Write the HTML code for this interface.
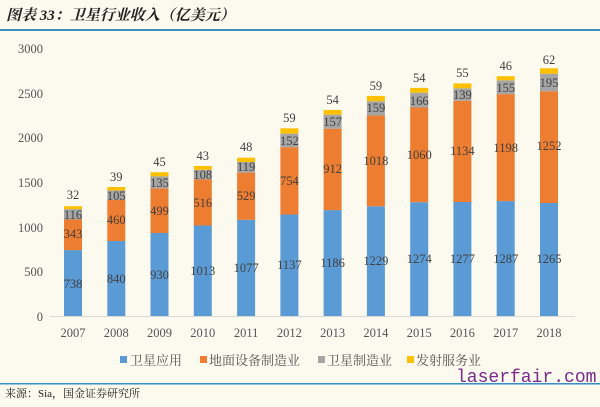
<!DOCTYPE html>
<html><head><meta charset="utf-8"><style>
body{margin:0;background:#fcf9ef;}
svg{display:block;font-family:"Liberation Serif","Noto Serif CJK SC",serif;}
</style></head><body>
<svg width="600" height="407" viewBox="0 0 600 407" xmlns="http://www.w3.org/2000/svg">
<rect width="600" height="407" fill="#fcf9ef"/>
<text x="6" y="20" font-size="15" font-weight="bold" font-style="italic" fill="#222" font-family="Liberation Serif,Noto Serif CJK SC,serif">图表 33：卫星行业收入（亿美元）</text>
<rect x="0" y="29" width="600" height="2" fill="#3a8fc4"/>
<g font-size="12.5" fill="#555" text-anchor="end">
<text x="43" y="53">3000</text><text x="43" y="98">2500</text><text x="43" y="142">2000</text><text x="43" y="187">1500</text><text x="43" y="232">1000</text><text x="43" y="276">500</text><text x="43" y="321">0</text>
</g>
<line x1="50" y1="316.5" x2="575" y2="316.5" stroke="#d9d9d9" stroke-width="1"/>
<g id="bars">
<rect x="64" y="250.1" width="18" height="65.9" fill="#5b9bd5"/><rect x="64" y="219.5" width="18" height="30.6" fill="#ed7d31"/><rect x="64" y="209.1" width="18" height="10.4" fill="#a5a5a5"/><rect x="64" y="206.2" width="18" height="2.9" fill="#ffc000"/>
<rect x="107.3" y="241" width="18" height="75" fill="#5b9bd5"/><rect x="107.3" y="199.9" width="18" height="41.1" fill="#ed7d31"/><rect x="107.3" y="190.5" width="18" height="9.4" fill="#a5a5a5"/><rect x="107.3" y="187" width="18" height="3.5" fill="#ffc000"/>
<rect x="150.5" y="233" width="18" height="83" fill="#5b9bd5"/><rect x="150.5" y="188.4" width="18" height="44.6" fill="#ed7d31"/><rect x="150.5" y="176.3" width="18" height="12.1" fill="#a5a5a5"/><rect x="150.5" y="172.3" width="18" height="4" fill="#ffc000"/>
<rect x="193.8" y="225.5" width="18" height="90.5" fill="#5b9bd5"/><rect x="193.8" y="179.4" width="18" height="46.1" fill="#ed7d31"/><rect x="193.8" y="169.8" width="18" height="9.6" fill="#a5a5a5"/><rect x="193.8" y="166" width="18" height="3.8" fill="#ffc000"/>
<rect x="237.1" y="219.8" width="18" height="96.2" fill="#5b9bd5"/><rect x="237.1" y="172.6" width="18" height="47.2" fill="#ed7d31"/><rect x="237.1" y="162" width="18" height="10.6" fill="#a5a5a5"/><rect x="237.1" y="157.7" width="18" height="4.3" fill="#ffc000"/>
<rect x="280.4" y="214.5" width="18" height="101.5" fill="#5b9bd5"/><rect x="280.4" y="147.2" width="18" height="67.3" fill="#ed7d31"/><rect x="280.4" y="133.6" width="18" height="13.6" fill="#a5a5a5"/><rect x="280.4" y="128.3" width="18" height="5.3" fill="#ffc000"/>
<rect x="323.6" y="210.1" width="18" height="105.9" fill="#5b9bd5"/><rect x="323.6" y="128.7" width="18" height="81.4" fill="#ed7d31"/><rect x="323.6" y="114.7" width="18" height="14" fill="#a5a5a5"/><rect x="323.6" y="109.9" width="18" height="4.8" fill="#ffc000"/>
<rect x="366.9" y="206.3" width="18" height="109.7" fill="#5b9bd5"/><rect x="366.9" y="115.4" width="18" height="90.9" fill="#ed7d31"/><rect x="366.9" y="101.2" width="18" height="14.2" fill="#a5a5a5"/><rect x="366.9" y="95.9" width="18" height="5.3" fill="#ffc000"/>
<rect x="410.2" y="202.2" width="18" height="113.8" fill="#5b9bd5"/><rect x="410.2" y="107.5" width="18" height="94.7" fill="#ed7d31"/><rect x="410.2" y="92.7" width="18" height="14.8" fill="#a5a5a5"/><rect x="410.2" y="87.9" width="18" height="4.8" fill="#ffc000"/>
<rect x="453.4" y="202" width="18" height="114" fill="#5b9bd5"/><rect x="453.4" y="100.7" width="18" height="101.3" fill="#ed7d31"/><rect x="453.4" y="88.3" width="18" height="12.4" fill="#a5a5a5"/><rect x="453.4" y="83.4" width="18" height="4.9" fill="#ffc000"/>
<rect x="496.7" y="201.1" width="18" height="114.9" fill="#5b9bd5"/><rect x="496.7" y="94.1" width="18" height="107" fill="#ed7d31"/><rect x="496.7" y="80.3" width="18" height="13.8" fill="#a5a5a5"/><rect x="496.7" y="76.2" width="18" height="4.1" fill="#ffc000"/>
<rect x="540" y="203" width="18" height="113" fill="#5b9bd5"/><rect x="540" y="91.2" width="18" height="111.8" fill="#ed7d31"/><rect x="540" y="73.8" width="18" height="17.4" fill="#a5a5a5"/><rect x="540" y="68.3" width="18" height="5.5" fill="#ffc000"/>
</g>
<g font-size="12.5" fill="#404040" text-anchor="middle" dominant-baseline="central">
<text x="73" y="284">738</text><text x="73" y="234">343</text><text x="73" y="215">116</text><text x="73" y="195">32</text>
<text x="116.3" y="279">840</text><text x="116.3" y="220">460</text><text x="116.3" y="196">105</text><text x="116.3" y="177">39</text>
<text x="159.5" y="275">930</text><text x="159.5" y="211">499</text><text x="159.5" y="183">135</text><text x="159.5" y="162">45</text>
<text x="202.8" y="271">1013</text><text x="202.8" y="203">516</text><text x="202.8" y="175">108</text><text x="202.8" y="156">43</text>
<text x="246.1" y="268">1077</text><text x="246.1" y="196">529</text><text x="246.1" y="167">119</text><text x="246.1" y="147">48</text>
<text x="289.4" y="265">1137</text><text x="289.4" y="181">754</text><text x="289.4" y="141">152</text><text x="289.4" y="118">59</text>
<text x="332.6" y="263">1186</text><text x="332.6" y="169">912</text><text x="332.6" y="122">157</text><text x="332.6" y="100">54</text>
<text x="375.9" y="261">1229</text><text x="375.9" y="161">1018</text><text x="375.9" y="108">159</text><text x="375.9" y="86">59</text>
<text x="419.2" y="259">1274</text><text x="419.2" y="155">1060</text><text x="419.2" y="101">166</text><text x="419.2" y="78">54</text>
<text x="462.4" y="259">1277</text><text x="462.4" y="151">1134</text><text x="462.4" y="95">139</text><text x="462.4" y="73">55</text>
<text x="505.7" y="259">1287</text><text x="505.7" y="148">1198</text><text x="505.7" y="88">155</text><text x="505.7" y="66">46</text>
<text x="549" y="259">1265</text><text x="549" y="146">1252</text><text x="549" y="83">195</text><text x="549" y="60">62</text>
</g>
<g font-size="12.5" fill="#555" text-anchor="middle">
<text x="73" y="337">2007</text><text x="116.3" y="337">2008</text><text x="159.5" y="337">2009</text><text x="202.8" y="337">2010</text><text x="246.1" y="337">2011</text><text x="289.4" y="337">2012</text><text x="332.6" y="337">2013</text><text x="375.9" y="337">2014</text><text x="419.2" y="337">2015</text><text x="462.4" y="337">2016</text><text x="505.7" y="337">2017</text><text x="549" y="337">2018</text>
</g>
<g font-size="13" fill="#555">
<rect x="120" y="356" width="7" height="7" fill="#5b9bd5"/><text x="130" y="365">卫星应用</text>
<rect x="200" y="356" width="7" height="7" fill="#ed7d31"/><text x="209" y="365">地面设备制造业</text>
<rect x="318" y="356" width="7" height="7" fill="#a5a5a5"/><text x="327" y="365">卫星制造业</text>
<rect x="407" y="356" width="7" height="7" fill="#ffc000"/><text x="416" y="365">发射服务业</text>
</g>
<text x="456" y="382" font-size="18" fill="#7a2a8a" font-family="Liberation Mono,monospace">laserfair.com</text>
<rect x="0" y="383" width="600" height="1.5" fill="#3a8fc4"/>
<text x="5" y="397" font-size="11" fill="#222">来源：Sia，国金证券研究所</text>
</svg>
</body></html>
